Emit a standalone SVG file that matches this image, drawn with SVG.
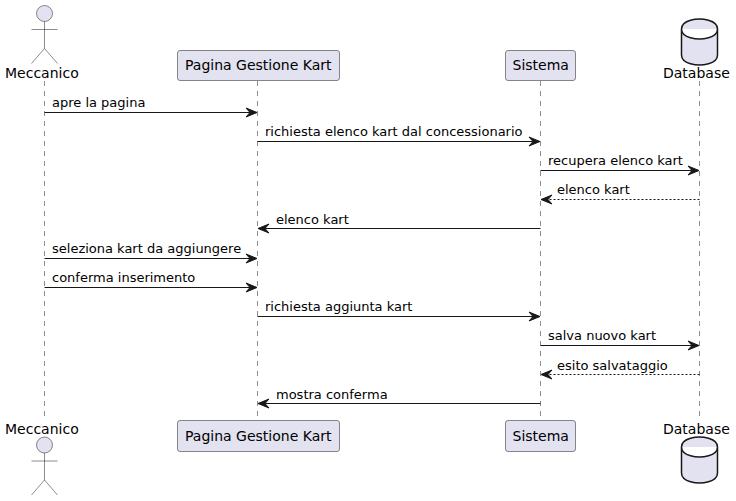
<svg xmlns="http://www.w3.org/2000/svg" width="736" height="501" viewBox="0 0 736 501">
<style>
text{font-family:"DejaVu Sans",sans-serif;fill:#000}
.n{font-size:14px}
.m{font-size:13px}
.life{stroke:#181818;stroke-width:.5;stroke-dasharray:5 5;fill:none}
.box{fill:#E2E2F0;stroke:#181818;stroke-width:.5}
.head{fill:#E2E2F0;stroke:#181818;stroke-width:.5}
.limbs{fill:none;stroke:#181818;stroke-width:.5}
.db{fill:#E2E2F0;stroke:#181818;stroke-width:1.5}
.a{stroke:#181818;stroke-width:1;fill:none}
.d{stroke-dasharray:2 2}
.h{fill:#181818;stroke:#181818;stroke-width:1}
</style>
<defs>
<g id="actor"><circle class="head" cx="44.5" cy="13.5" r="8"/><path class="limbs" d="M44.5 21.500V48.500M31.500 29.500H57.500M31.500 63.500L44.500 48.500L57.500 63.500"/></g>
<path id="cyl" class="db" d="M681.500 29c0-10 18-10 18-10s18 0 18 10v26c0 10-18 10-18 10s-18 0-18-10zM681.500 29c0 10 18 10 18 10s18 0 18-10"/>
<path id="r" class="h" d="M-.5 0l-11-4.500l4 4.500l-4 4.500z"/>
<path id="l" class="h" d="M.5 0l11-4.500l-4 4.500l4 4.500z"/>
</defs>
<g id="lifelines">
<path class="life" d="M44.500 81V420M257.500 81V420M540.500 81V420M699.500 81V420"/>
</g>
<g id="node-meccanico-top"><use href="#actor"/><text class="n" x="5" y="78">Meccanico</text></g>
<g id="node-pagina-top"><rect class="box" x="177.500" y="50.500" width="162" height="30" rx="2.500"/><text class="n" x="185" y="70">Pagina Gestione Kart</text></g>
<g id="node-sistema-top"><rect class="box" x="505.500" y="50.500" width="70" height="30" rx="2.500"/><text class="n" x="512.500" y="70">Sistema</text></g>
<g id="node-database-top"><use href="#cyl"/><text class="n" x="663" y="78">Database</text></g>
<g id="connectors">
<path class="a" d="M44.500 112.500H250"/><use href="#r" x="257.500" y="112.500"/>
<path class="a" d="M257.500 141.500H533"/><use href="#r" x="540.500" y="141.500"/>
<path class="a" d="M540.500 170.500H692"/><use href="#r" x="699.500" y="170.500"/>
<path class="a d" d="M699.500 199.500H548"/><use href="#l" x="540.500" y="199.500"/>
<path class="a" d="M540.500 228.500H265"/><use href="#l" x="257.500" y="228.500"/>
<path class="a" d="M44.500 258.500H250"/><use href="#r" x="257.500" y="258.500"/>
<path class="a" d="M44.500 287.500H250"/><use href="#r" x="257.500" y="287.500"/>
<path class="a" d="M257.500 316.500H533"/><use href="#r" x="540.500" y="316.500"/>
<path class="a" d="M540.500 345.500H692"/><use href="#r" x="699.500" y="345.500"/>
<path class="a d" d="M699.500 374.500H548"/><use href="#l" x="540.500" y="374.500"/>
<path class="a" d="M540.500 403.500H265"/><use href="#l" x="257.500" y="403.500"/>
</g>
<g id="labels">
<text class="m" x="52" y="107">apre la pagina</text>
<text class="m" x="265" y="136">richiesta elenco kart dal concessionario</text>
<text class="m" x="548" y="165">recupera elenco kart</text>
<text class="m" x="557" y="194">elenco kart</text>
<text class="m" x="276" y="224">elenco kart</text>
<text class="m" x="52" y="253">seleziona kart da aggiungere</text>
<text class="m" x="52" y="282">conferma inserimento</text>
<text class="m" x="265" y="311">richiesta aggiunta kart</text>
<text class="m" x="548" y="340">salva nuovo kart</text>
<text class="m" x="557" y="370">esito salvataggio</text>
<text class="m" x="276" y="399">mostra conferma</text>
</g>
<g id="node-meccanico-bottom"><text class="n" x="5" y="434">Meccanico</text><use href="#actor" y="431.500"/></g>
<g id="node-pagina-bottom"><rect class="box" x="177.500" y="420.500" width="162" height="31" rx="2.500"/><text class="n" x="185" y="441">Pagina Gestione Kart</text></g>
<g id="node-sistema-bottom"><rect class="box" x="505.500" y="420.500" width="70" height="31" rx="2.500"/><text class="n" x="512.500" y="441">Sistema</text></g>
<g id="node-database-bottom"><text class="n" x="663" y="434">Database</text><use href="#cyl" y="418"/></g>
</svg>
